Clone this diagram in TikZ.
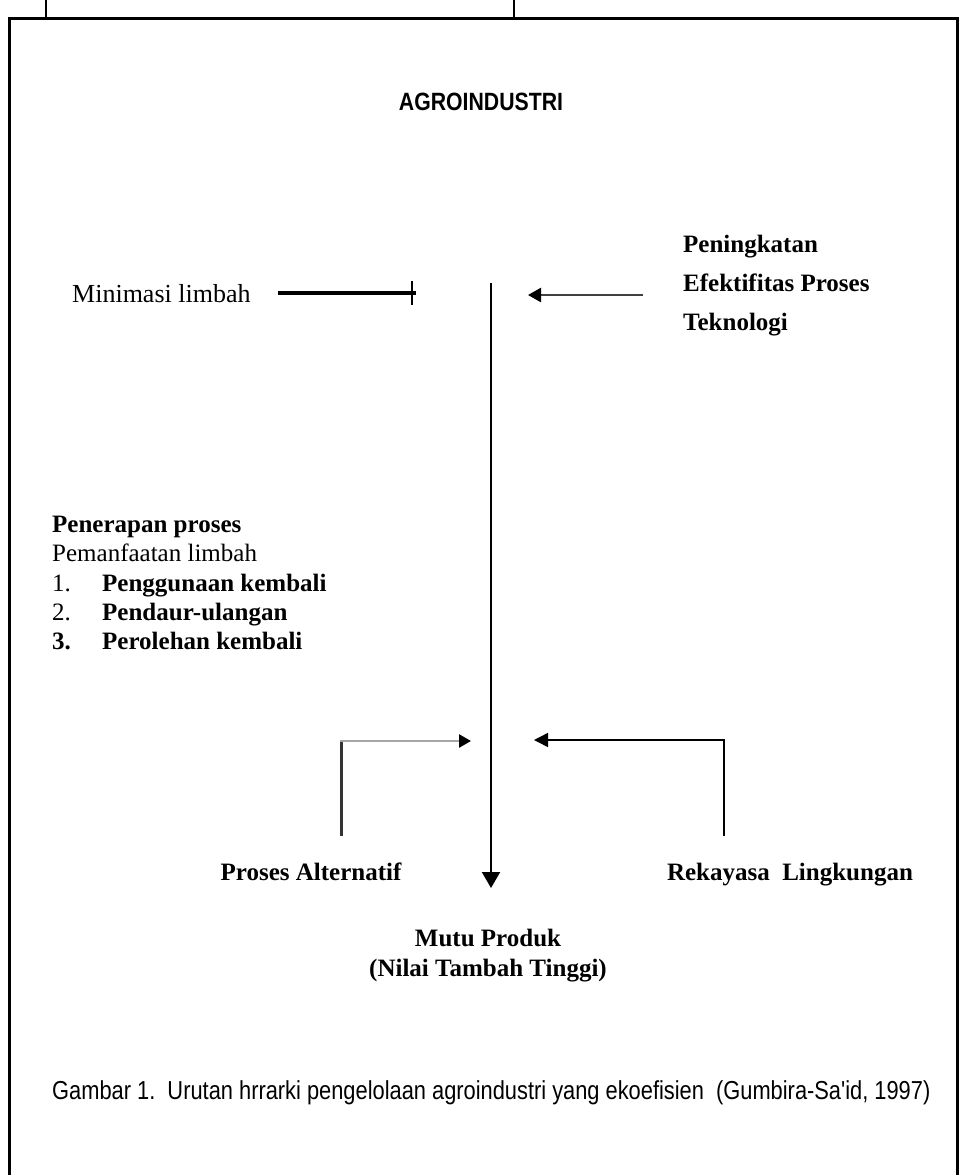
\documentclass[tikz,border=0pt]{standalone}
\usepackage{fontspec}
\setmainfont{Liberation Serif}
\setsansfont{Liberation Sans}
\newfontfamily\captionfont[FakeStretch=0.84]{Liberation Sans}
\newfontfamily\titlefont[FakeStretch=0.85]{Liberation Sans}
\usetikzlibrary{arrows.meta}

\begin{document}
\begin{tikzpicture}[x=1pt,y=-1pt,
  plaintext/.style={inner sep=0pt,font=\fontsize{26}{30}\selectfont},
  boldtext/.style={inner sep=0pt,font=\fontsize{25}{30}\selectfont\bfseries},
  bigtip/.style={-{Triangle[width=18pt,length=16pt]}}]
\useasboundingbox (0,0) rectangle (960,1175);

% frame
\draw[line width=1.2pt] (46,0) -- (46,18);
\draw[line width=1.2pt] (514,0) -- (514,18);
\draw[line width=3pt] (9,1175) -- (9,18) -- (957,18) -- (957,1175);

\node (title) at (481,102) {\titlefont\bfseries\fontsize{25}{28}\selectfont AGROINDUSTRI};

% main flow
\coordinate (flowtop) at (491,283);
\coordinate (flowtip) at (491,888);
\draw[line width=2pt, bigtip] (flowtop) -- (flowtip);

\node[plaintext, anchor=west] (minim) at (72,294) {Minimasi limbah};
\coordinate (minim-end) at (416,293);
\draw[line width=4pt] ([xshift=27pt]minim.east |- minim-end) -- (minim-end);
\draw[line width=2.2pt] ([yshift=12pt]minim-end) ++(-4,0) -- ++(0,24);

\node[boldtext, anchor=west, align=left, font=\fontsize{25}{39}\selectfont\bfseries]
  (tekno) at (683,286) {Peningkatan\\Efektifitas Proses\\Teknologi};
\coordinate (tekno-out) at (643,295);
\coordinate (tekno-in) at (528,295);
\draw[line width=2.5pt, black!75, -{Triangle[width=14pt,length=13pt,black]}]
  (tekno-out) -- (tekno-in);

\node[plaintext, anchor=west, align=left, font=\fontsize{25}{29.3}\selectfont]
  (terap) at (52,583) {\textbf{Penerapan proses}\\
  Pemanfaatan limbah\\
  \makebox[50pt][l]{1.}\textbf{Penggunaan kembali}\\
  \makebox[50pt][l]{2.}\textbf{Pendaur-ulangan}\\
  \makebox[50pt][l]{\textbf{3.}}\textbf{Perolehan kembali}};

% side inputs
\node[boldtext, anchor=base] (alt) at (311,880) {Proses Alternatif};
\node[boldtext, anchor=base] (rek) at (790,880) {Rekayasa\ \ Lingkungan};
\coordinate (alt-foot) at (341,836);
\coordinate (alt-in) at (471,741);
\draw[line width=3pt, black!80] (alt-foot) -- (alt-foot |- alt-in);
\draw[line width=2.5pt, black!35, -{Triangle[width=13pt,length=12pt,black]}]
  ([xshift=-1.5pt]alt-foot |- alt-in) -- (alt-in);
\coordinate (rek-foot) at (724,836);
\coordinate (rek-in) at (534,740);
\draw[line width=1.5pt, -{Triangle[width=14pt,length=14pt]}] (rek-foot) |- (rek-in);

\node[boldtext, align=center] (mutu) at (488,956) {Mutu Produk\\(Nilai Tambah Tinggi)};

\node[anchor=west, inner sep=0pt] (caption) at (52,1093)
  {\captionfont\fontsize{26}{30}\selectfont Gambar 1.\ \ Urutan hrrarki pengelolaan agroindustri yang ekoefisien\ \ (Gumbira-Sa'id, 1997)};
\end{tikzpicture}
\end{document}
